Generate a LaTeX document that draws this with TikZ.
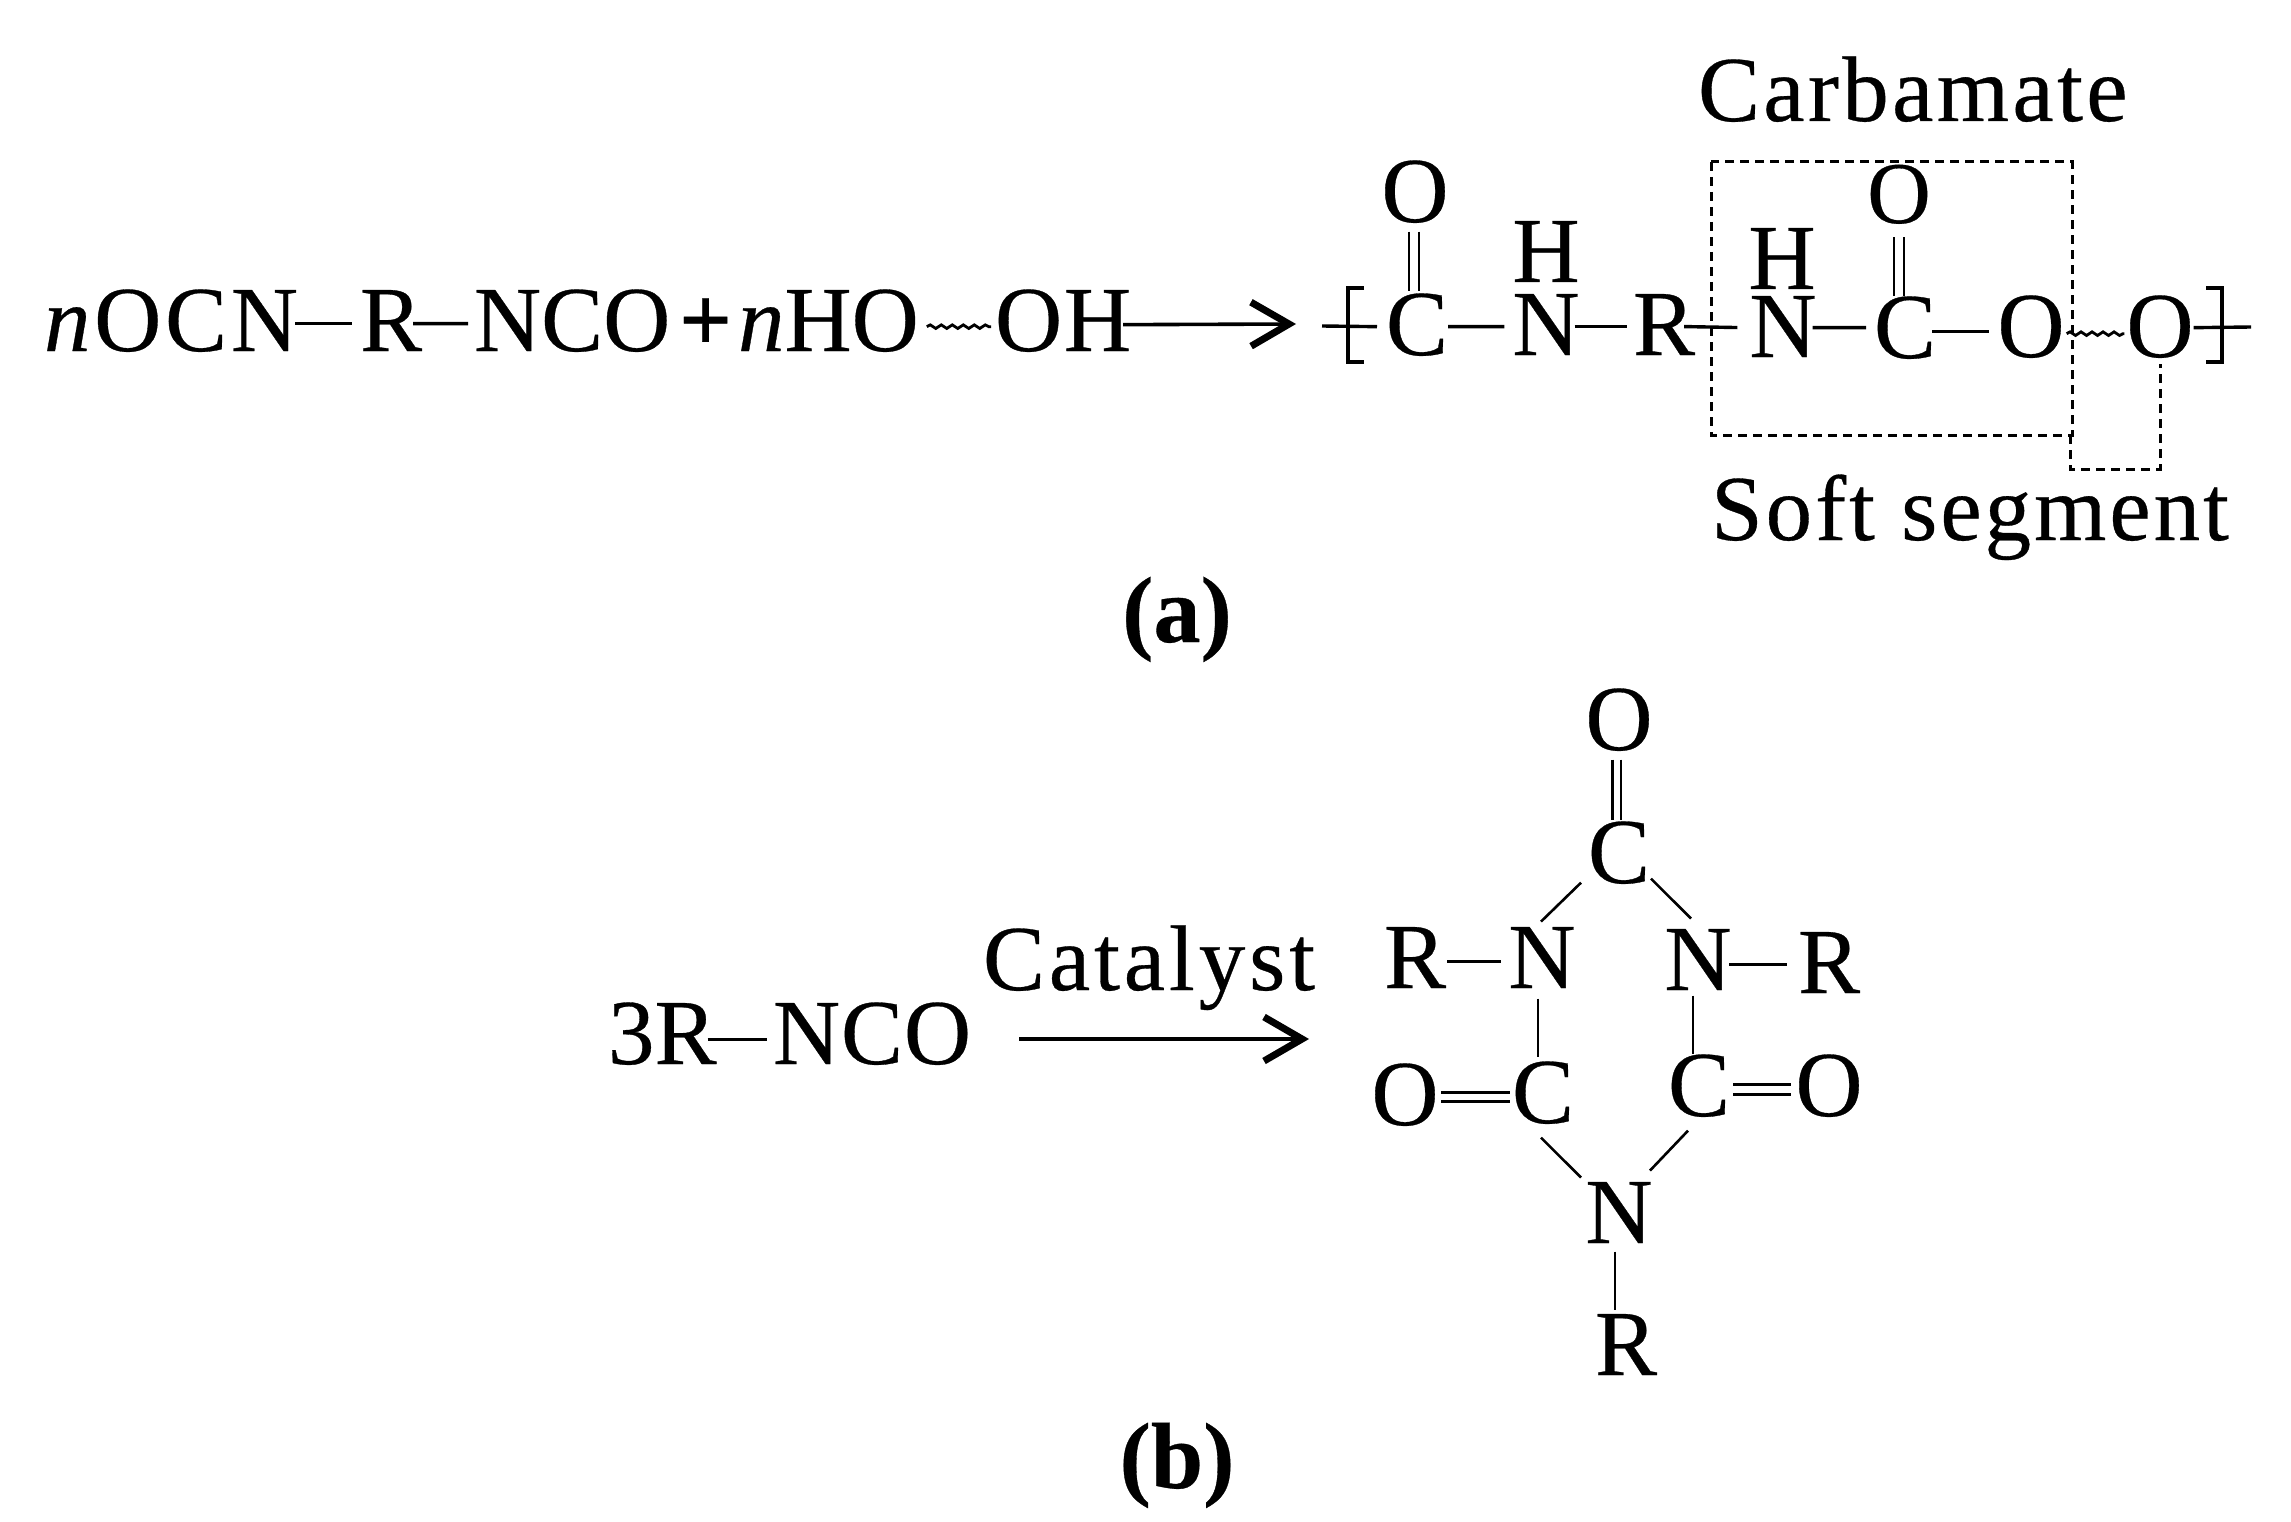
\documentclass[tikz,border=0pt]{standalone}
\usepackage{fontspec}
\setmainfont[FakeBold=0.35]{Liberation Serif}
\usetikzlibrary{arrows.meta,decorations.pathmorphing,calc}
\newcommand{\atomfont}{\fontsize{93}{100}\selectfont}
\newcommand{\smallatom}{\fontsize{88}{100}\selectfont}
\tikzset{
  x=1pt,y=-1pt,
  atom/.style={inner sep=0pt,outer sep=0pt,anchor=base,font=\atomfont},
  run/.style={inner sep=0pt,outer sep=0pt,anchor=base west,font=\atomfont},
  bond/.style={line width=3.4pt},
  thin bond/.style={line width=2.6pt},
  wave/.style={line width=2.8pt,decorate,decoration={snake,amplitude=1.8pt,segment length=11pt}},
  dbox/.style={line width=3pt,dash pattern=on 9pt off 6pt},
  rarrow/.style={line width=3.6pt,-{Straight Barb[length=38pt,width=44pt,line width=7pt]}},
  brk/.style={line width=3.6pt}
}
\begin{document}
\begin{tikzpicture}
\useasboundingbox (0,0) rectangle (2291,1522);
\fill[white] (0,0) rectangle (2291,1522);
% ---------- (a) left side
\node[run] (nocn) at (44,351) {\addfontfeature{LetterSpace=4}\textit{n}OCN};
\node[run] (ra) at (360,351) {R};
\node[run] (nco) at (474,351) {NCO};
\node[run] (plus) at (679,351) {\textbf{+}};
\node[run] (nho) at (738,351) {\textit{n}HO};
\node[run] (oh) at (995,351) {\addfontfeature{LetterSpace=2}OH};
\coordinate (tipa) at (1296,324);
\draw[bond] ($(ra.west)+(-65,3)$) -- ($(ra.west)+(-8,3)$);
\draw[bond] ($(ra.east)+(-9,3)$) -- ($(nco.west)+(-6,3)$);
\draw[wave] ($(nho.east)+(8,6)$) -- ($(oh.west)+(-4,6)$);
\draw[rarrow] ($(oh.east)+(-8,4)$) -- (tipa);
% ---------- (a) right side
\node[atom] (c1) at (1417,355) {C};
\node[atom] (o1) at (1415,222) {O};
\node[atom] (n1) at (1546,355) {N};
\node[atom] (h1) at (1546,282) {H};
\node[atom] (r1) at (1664,355) {R};
\node[atom] (n2) at (1783,357) {N};
\node[atom] (h2) at (1782,289) {H};
\node[atom] (c2) at (1905,358) {C};
\node[atom,font=\smallatom] (o2) at (1899,223) {O};
\node[atom] (o3) at (2031,357) {O};
\node[atom] (o4) at (2160,357) {O};
\node[run] (carb) at (1698,121) {\addfontfeature{LetterSpace=3.6}Carbamate};
\node[run] (soft) at (1711,540) {\addfontfeature{LetterSpace=3.2}Soft segment};
\coordinate (lbt) at (1364,288);
\coordinate (rbt) at (2206,288);
\coordinate (lstub) at (1322,326);
\coordinate (rstub) at (2251,327);
\draw[brk] (lbt) -- ++(-16,0) -- ++(0,74) -- ++(16,0);
\draw[brk] (rbt) -- ++(16,0) -- ++(0,74) -- ++(-16,0);
\draw[bond] (lstub) -- ($(c1.west)+(-9,2)$);
\draw[bond] ($(c1.east)+(0,2)$) -- ($(n1.west)+(-8,2)$);
\draw[bond] ($(n1.east)+(-5,2)$) -- ($(r1.west)+(-6,2)$);
\draw[bond] ($(r1.east)+(-11,2)$) -- ($(n2.west)+(-12,1)$);
\draw[bond] ($(n2.east)+(-4,1)$) -- ($(c2.west)+(-8,0)$);
\draw[bond] ($(c2.east)+(-4,4)$) -- ($(o3.west)+(-8,5)$);
\draw[wave] ($(o3.east)+(2,7)$) -- ($(o4.west)+(-2,7)$);
\draw[bond] ($(o4.east)+(0,1)$) -- (rstub);
\draw[thin bond] ($(o1)+(-6,40)$) -- ($(c1)+(-8,-34)$);
\draw[thin bond] ($(o1)+(4,40)$) -- ($(c1)+(2,-34)$);
\draw[thin bond] ($(o2)+(-5,43)$) -- ($(c2)+(-11,-32)$);
\draw[thin bond] ($(o2)+(5,43)$) -- ($(c2)+(-1,-32)$);
% dashed outlines
\coordinate (ca) at (1711,162);
\coordinate (cb) at (2072,435);
\coordinate (sl) at (2070,435);
\coordinate (sb) at (2160,469);
\draw[dbox] (ca) rectangle (cb);
\draw[dbox] (sl) |- (sb) -- ($(o4.south)+(0,6)$);
% labels
\node[atom,font=\bfseries\fontsize{94}{100}\selectfont] (la) at (1177,642) {(a)};
\node[atom,font=\bfseries\fontsize{94}{100}\selectfont] (lb) at (1177,1488) {(b)};
% ---------- (b) left
\node[run] (r3) at (608,1064) {3R};
\node[run] (nco2) at (773,1064) {\addfontfeature{LetterSpace=1}NCO};
\node[run] (cat) at (983,990) {\addfontfeature{LetterSpace=4.2}Catalyst};
\coordinate (arl) at (1019,1039);
\coordinate (arr) at (1309,1039);
\draw[bond] ($(r3.east)+(-9,6)$) -- ($(nco2.west)+(-6,6)$);
\draw[rarrow] (arl) -- (arr);
% ---------- (b) ring
\node[atom] (ot) at (1619,750) {O};
\node[atom] (ct) at (1619,883) {C};
\node[atom] (nl) at (1542,988) {N};
\node[atom] (rl) at (1415,988) {R};
\node[atom] (nr) at (1698,990) {N};
\node[atom] (rr) at (1829,993) {R};
\node[atom] (cl) at (1543,1123) {C};
\node[atom] (ol) at (1405,1125) {O};
\node[atom] (cr) at (1699,1116) {C};
\node[atom] (or) at (1829,1116) {O};
\node[atom] (nb) at (1619,1243) {N};
\node[atom] (rb) at (1626,1375) {R};
\draw[thin bond] ($(ot)+(-6.5,40)$) -- ($(ct)+(-6.5,-33)$);
\draw[thin bond] ($(ot)+(2,40)$) -- ($(ct)+(2,-33)$);
\draw[thin bond] ($(ct)+(-38,30)$) -- ($(nl)+(-1,-36)$);
\draw[thin bond] ($(ct)+(32,26)$) -- ($(nr)+(-7,-41)$);
\draw[bond] ($(rl)+(32,4)$) -- ($(nl)+(-41,4)$);
\draw[bond] ($(nr)+(31,5)$) -- ($(rr)+(-42,2)$);
\draw[thin bond] ($(nl)+(-4,41)$) -- ($(cl)+(-5,-36)$);
\draw[thin bond] ($(nr)+(-5,36)$) -- ($(cr)+(-6,-32)$);
\draw[thin bond] ($(ol)+(36,-2)$) -- ($(cl)+(-33,0)$);
\draw[thin bond] ($(ol)+(36,7)$) -- ($(cl)+(-33,9)$);
\draw[thin bond] ($(cr)+(34,-1)$) -- ($(or)+(-38,-1)$);
\draw[thin bond] ($(cr)+(34,9)$) -- ($(or)+(-38,9)$);
\draw[thin bond] ($(cl)+(-2,45)$) -- ($(nb)+(-38,-35)$);
\draw[thin bond] ($(cr)+(-11,45)$) -- ($(nb)+(31,-42)$);
\draw[thin bond] ($(nb)+(-4,39)$) -- ($(rb)+(-11,-35)$);
\end{tikzpicture}
\end{document}
